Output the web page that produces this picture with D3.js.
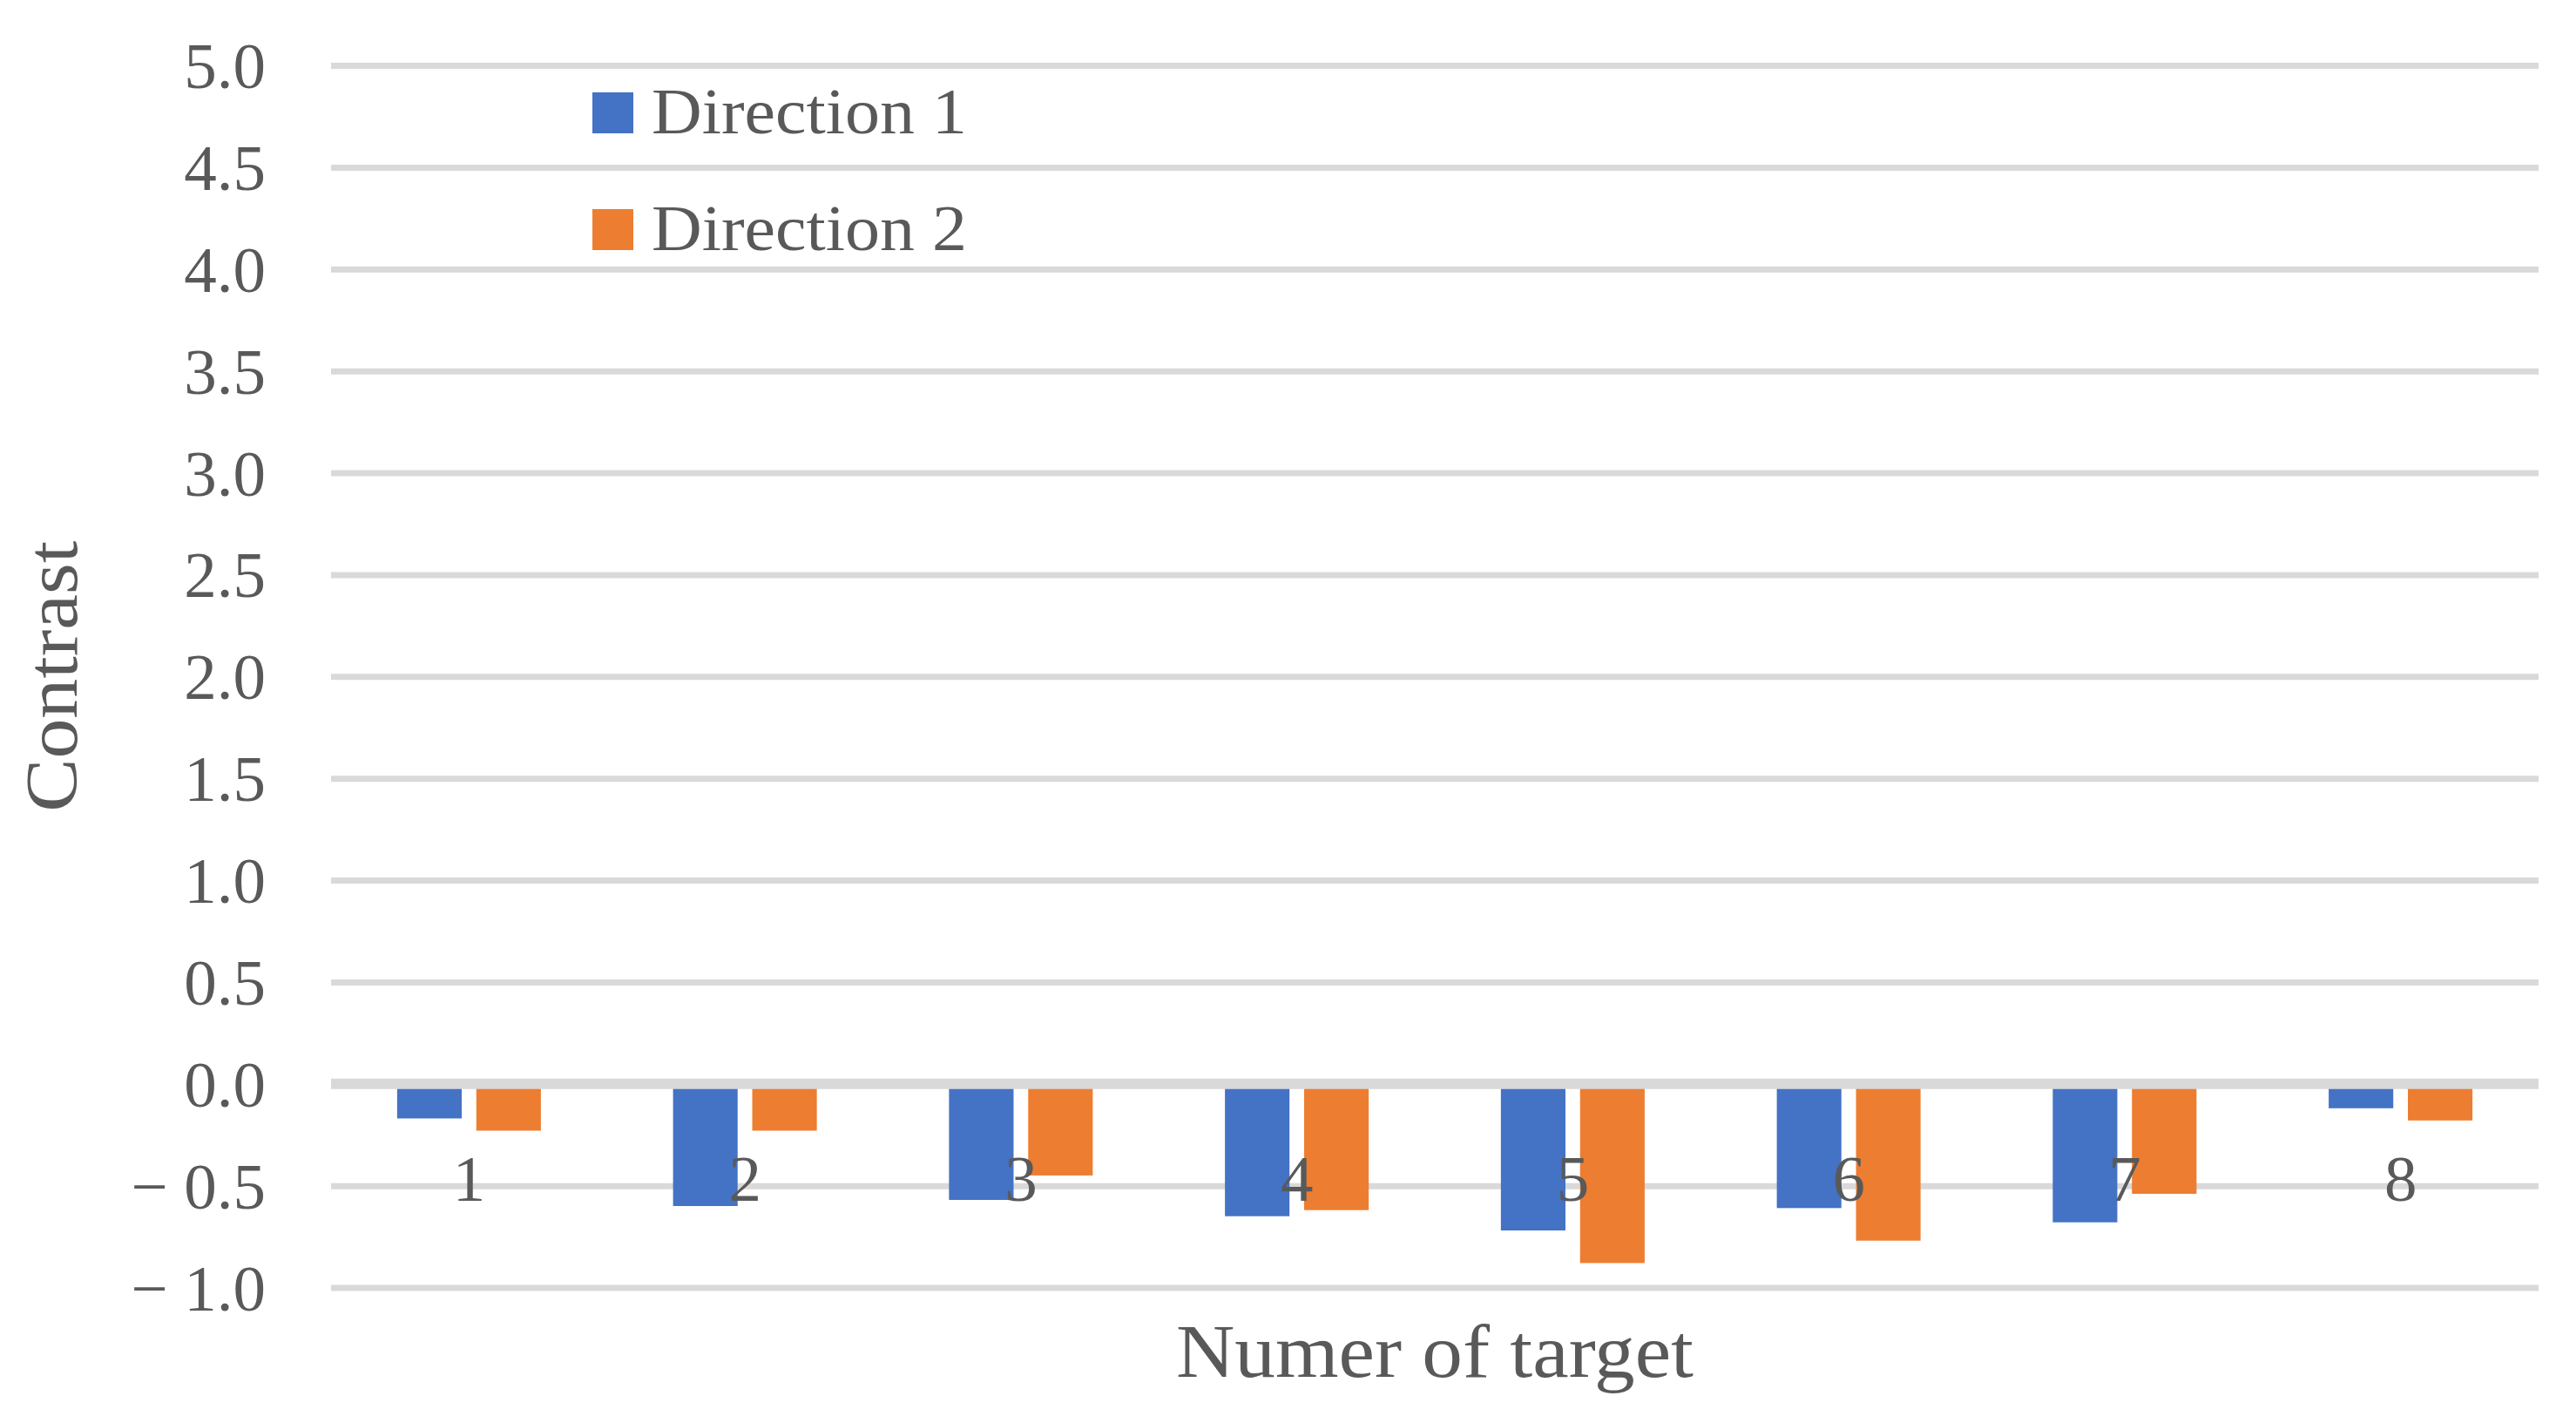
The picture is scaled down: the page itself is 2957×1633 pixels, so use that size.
<!DOCTYPE html>
<html>
<head>
<meta charset="utf-8">
<script src="https://cdn.jsdelivr.net/npm/d3@7"></script>
<style>
  body { margin: 0; background: #fff; }
  text { font-family: "Palatino Linotype", "Book Antiqua", Palatino, "Liberation Serif", serif; fill: #595959; }
</style>
</head>
<body>
<div id="chart"></div>
<script>
// data
const targets = ["1", "2", "3", "4", "5", "6", "7", "8"];
const seriesNames = ["Direction 1", "Direction 2"];
const direction1 = [-0.17, -0.60, -0.57, -0.65, -0.72, -0.61, -0.68, -0.12];
const direction2 = [-0.23, -0.23, -0.45, -0.62, -0.88, -0.77, -0.54, -0.18];
const yTicks = [-1.0, -0.5, 0.0, 0.5, 1.0, 1.5, 2.0, 2.5, 3.0, 3.5, 4.0, 4.5, 5.0];
const colors = ["#4472C4", "#ED7D31"];

// set the dimensions and margins of the graph
const W = 2957, H = 1633;
const margin = {top: 75, right: 43, bottom: 155, left: 380},
  width = W - margin.left - margin.right,
  height = 1477.5 - margin.top;

const svg = d3.select("#chart")
  .append("svg")
  .attr("width", W)
  .attr("height", H)
  .append("g")
  .attr("transform", `translate(${margin.left}, ${margin.top})`);

const x = d3.scaleBand()
  .domain(targets)
  .range([0, width])
  .padding(0);

const y = d3.scaleLinear()
  .domain([-1, 5])
  .range([height, 0]);

// gridlines + y labels
const yAxis = svg.append("g")
  .call(d3.axisLeft(y)
    .tickValues(yTicks)
    .tickSize(-width)
    .tickPadding(75)
    .tickFormat(d => d < 0 ? "\u2212 " + Math.abs(d).toFixed(1) : d.toFixed(1)));
yAxis.select(".domain").remove();
yAxis.selectAll("line").attr("stroke", "#D9D9D9").attr("stroke-width", 7);
yAxis.selectAll("text")
  .style("font-size", "75px")
  .attr("fill", "#595959")
  .attr("dy", "0.34em");

// bars
const bw = x.bandwidth() * 0.234, gap = x.bandwidth() * 0.053;
const groupW = 2 * bw + gap;
const rows = targets.map((t, i) => ({t: t, vals: [direction1[i], direction2[i]]}));

svg.append("g")
  .selectAll("g")
  .data(rows)
  .join("g")
  .attr("transform", d => `translate(${x(d.t) + (x.bandwidth() - groupW) / 2}, 0)`)
  .selectAll("rect")
  .data(d => d.vals)
  .join("rect")
  .attr("x", (d, j) => j * (bw + gap))
  .attr("y", d => y(Math.max(0, d)))
  .attr("width", bw)
  .attr("height", d => Math.abs(y(d) - y(0)))
  .attr("fill", (d, j) => colors[j]);

// zero line on top of bars
svg.append("line")
  .attr("x1", 0).attr("x2", width)
  .attr("y1", y(0)).attr("y2", y(0))
  .attr("stroke", "#D9D9D9")
  .attr("stroke-width", 12);

// category labels
const xAxis = svg.append("g")
  .attr("transform", `translate(0, ${y(0)})`)
  .call(d3.axisBottom(x).tickSize(0));
xAxis.select(".domain").remove();
xAxis.selectAll("text")
  .attr("y", 134)
  .attr("dy", 0)
  .style("font-size", "75px")
  .attr("fill", "#595959");

// axis titles
svg.append("text")
  .attr("x", width / 2)
  .attr("y", 1580 - margin.top)
  .attr("text-anchor", "middle")
  .attr("textLength", 594)
  .attr("lengthAdjust", "spacingAndGlyphs")
  .style("font-size", "86px")
  .text("Numer of target");

svg.append("text")
  .attr("transform", `translate(${88 - margin.left}, ${y(2)}) rotate(-90)`)
  .attr("text-anchor", "middle")
  .attr("textLength", 311)
  .attr("lengthAdjust", "spacingAndGlyphs")
  .style("font-size", "84px")
  .text("Contrast");

// legend
const legend = svg.append("g")
  .selectAll("g")
  .data(seriesNames)
  .join("g")
  .attr("transform", (d, i) => `translate(${680 - margin.left}, ${153 - margin.top + i * 134})`);
legend.append("rect")
  .attr("x", 0).attr("y", -47)
  .attr("width", 47).attr("height", 47)
  .attr("fill", (d, i) => colors[i]);
legend.append("text")
  .attr("x", 68)
  .attr("y", 0)
  .attr("textLength", 362)
  .attr("lengthAdjust", "spacingAndGlyphs")
  .style("font-size", "75px")
  .text(d => d);
</script>
</body>
</html>
